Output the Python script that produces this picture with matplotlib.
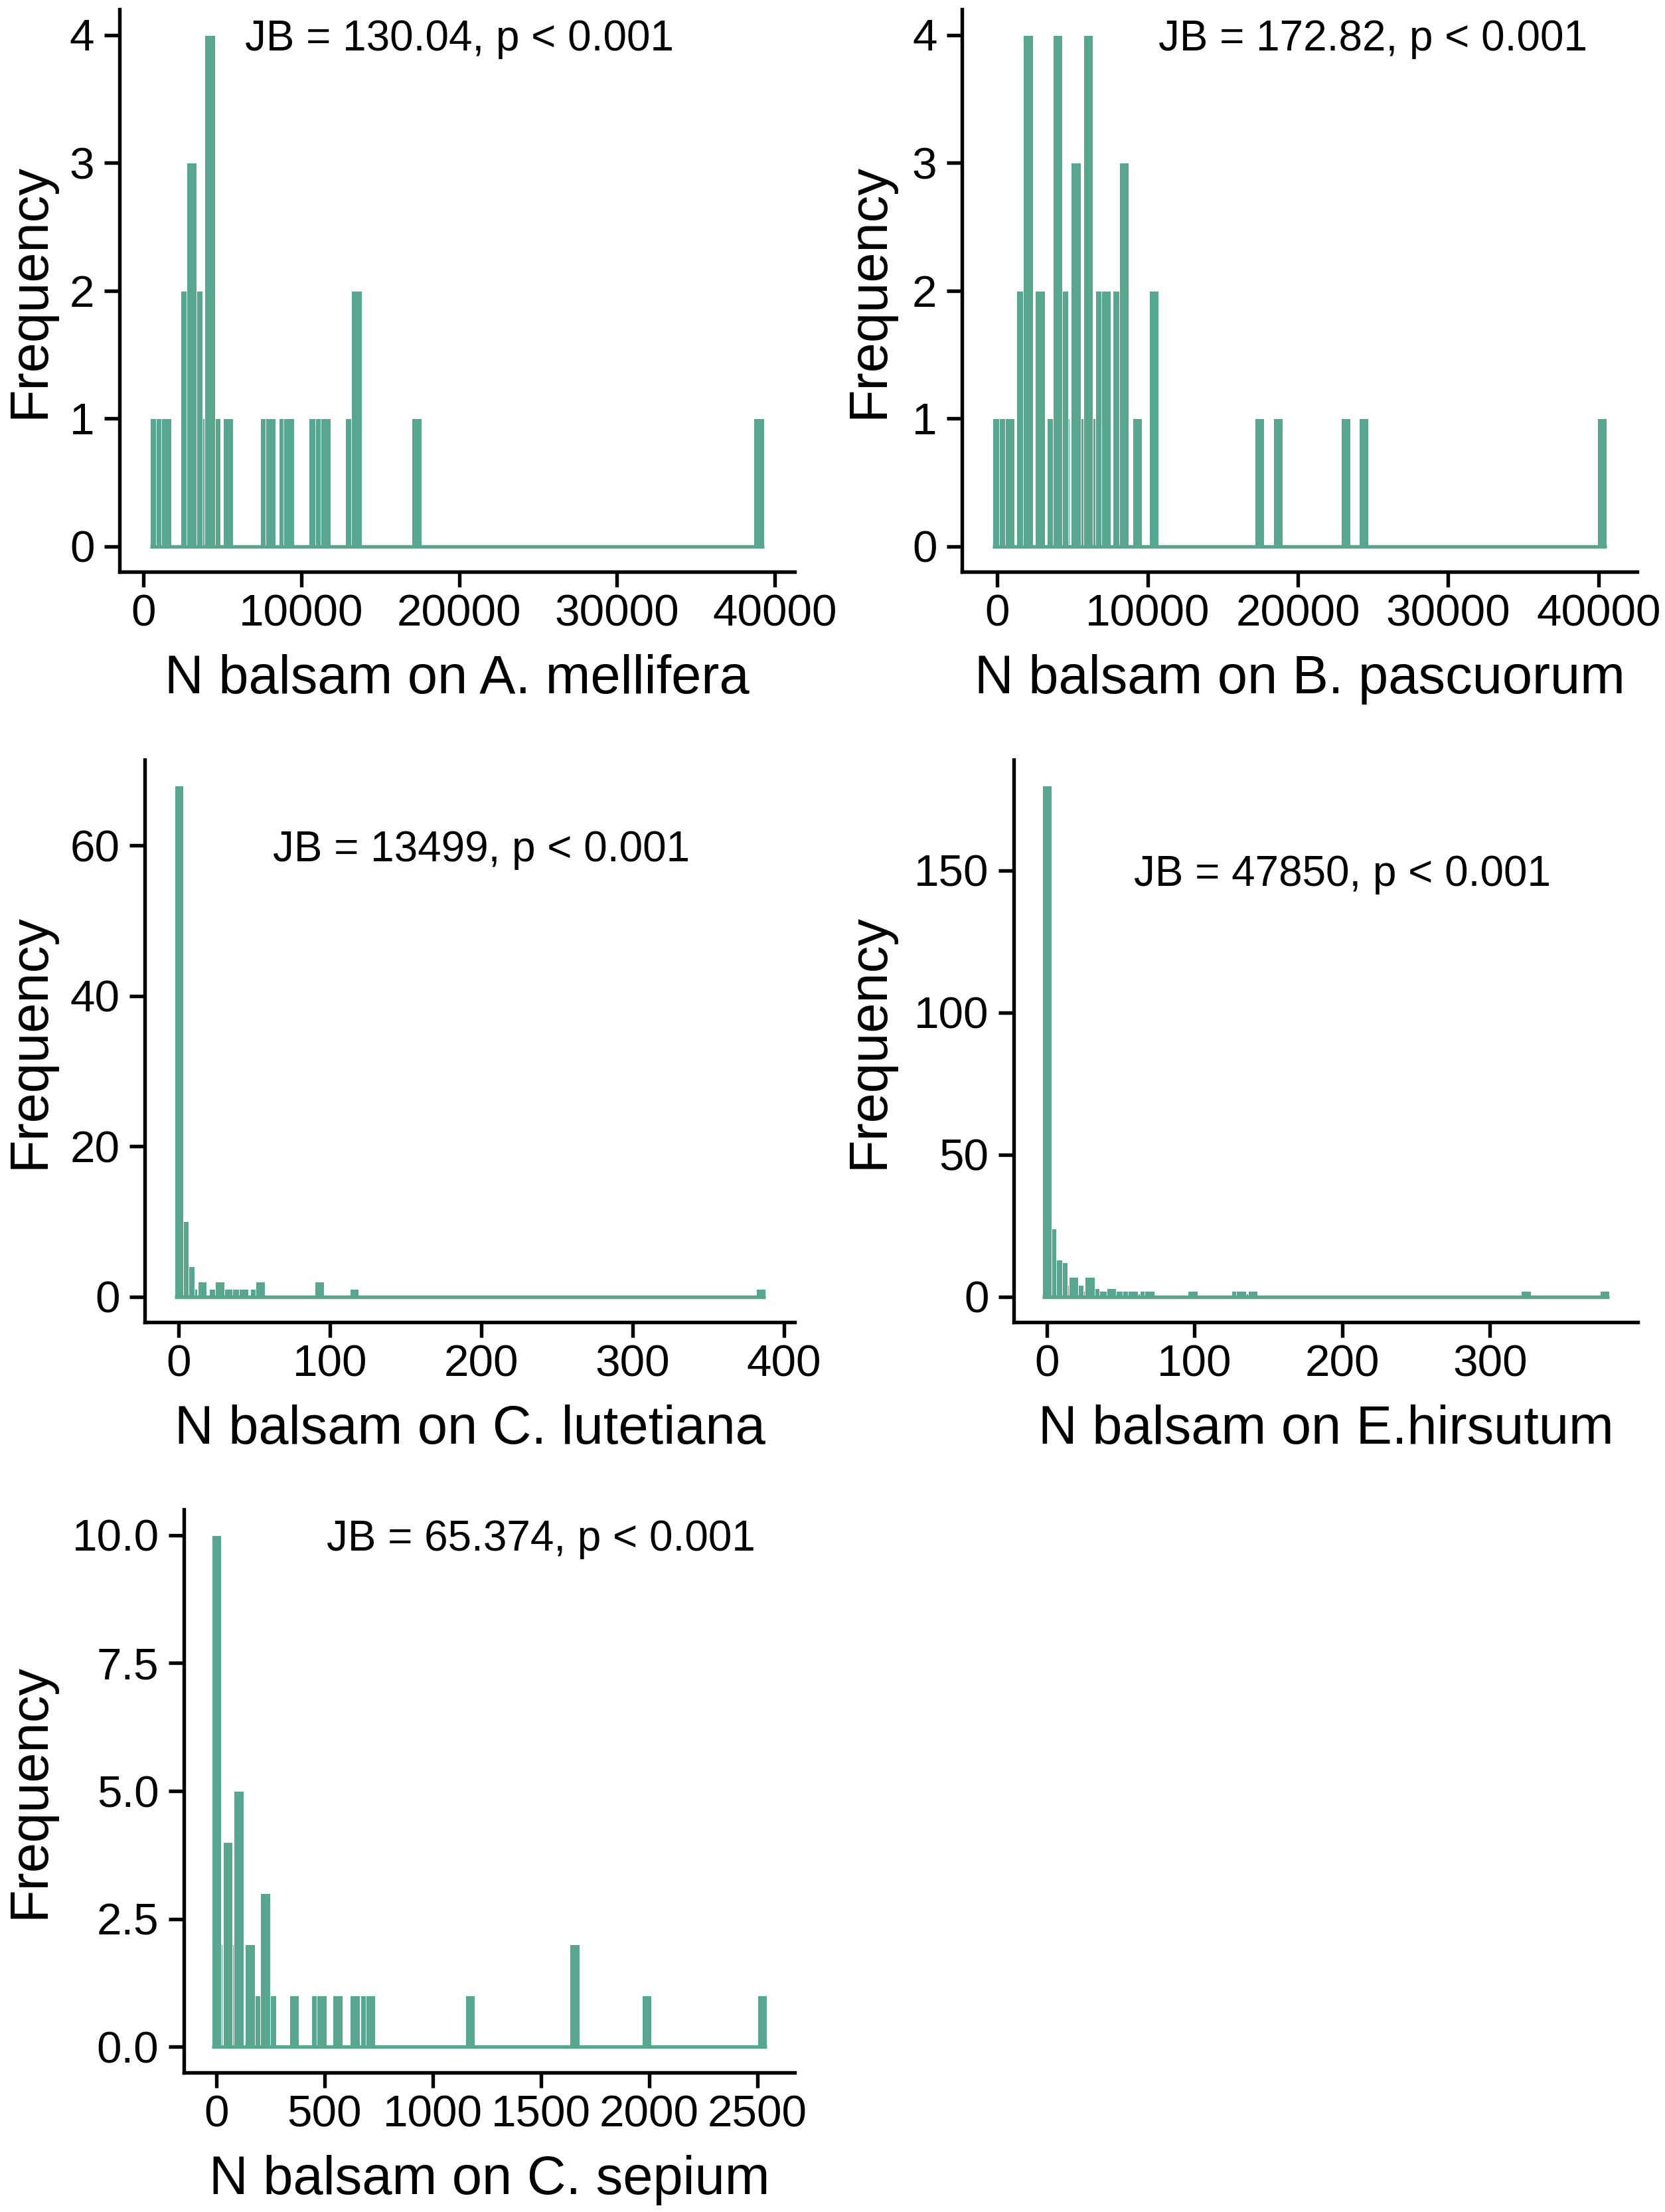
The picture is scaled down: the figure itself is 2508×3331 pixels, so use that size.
import matplotlib.pyplot as plt
import numpy as np
from matplotlib.ticker import FormatStrFormatter

plt.rcParams['font.family'] = ['Liberation Sans', 'DejaVu Sans']

GREEN = '#58a690'
W, H, DPI = 2508, 3331, 300

# ---- data: bar centres and counts per panel ----
# A. mellifera
mel_x = [745, 1100, 1448, 2656, 3036, 3416, 4062, 4202, 4540, 5369, 7716, 8054,
         8896, 9206, 10808, 11200, 11539, 13113, 13492, 17316, 39002]
mel_n = [1, 1, 1, 2, 3, 2, 1, 4, 1, 1, 1, 1, 1, 1, 1, 1, 1, 1, 2, 1, 1]
mel_bw = 646

# B. pascuorum
pas_x = [6, 420, 829, 1607, 2040, 2070, 2844, 3620, 4480, 4420, 4018, 5224, 5620,
         6027, 6400, 6830, 7230, 7990, 8424, 9300, 10417, 17449, 18671, 23168,
         24389, 40216]
pas_n = [1, 1, 1, 2, 4, 2, 2, 1, 1, 2, 4, 3, 1, 4, 1, 2, 2, 2, 3, 1, 2, 1, 1, 1,
         1, 1]
pas_bw = 629

# C. lutetiana
lut_x = [0, 3.4, 7.5, 9.2, 15.4, 22.9, 26.9, 33.1, 38.5, 42.7, 50.3, 53.9, 92.7,
         115.9, 384.6]
lut_n = [68, 10, 4, 1, 2, 1, 2, 1, 1, 1, 1, 2, 2, 1, 1]
lut_bw = 6.1

# E. hirsutum
hir_x = [0, 3.2, 7.2, 10.6, 11.8, 18.0, 21.6, 22.7, 29.0, 32.4, 37.4, 43.7, 50.0,
         54.3, 58.2, 59.7, 66.1, 69.4, 98.7, 128.2, 131.5, 133.0, 139.3, 324.3,
         377.6]
hir_n = [180, 24, 13, 12, 4, 7, 4, 2, 7, 3, 2, 3, 2, 2, 2, 1, 2, 2, 2, 2, 2, 1, 2,
         2, 2]
hir_bw = 6.47

# C. sepium
sep_x = [0, 6, 52, 62, 103, 155, 182, 226, 254, 359, 460, 487, 560, 640, 688, 712,
         1172, 1656, 1989, 2523]
sep_n = [10, 2, 4, 2, 5, 2, 1, 3, 1, 1, 1, 1, 1, 1, 1, 1, 1, 2, 1, 1]
sep_bw = 44

xlabels = ['N balsam on A. mellifera', 'N balsam on B. pascuorum',
           'N balsam on C. lutetiana', 'N balsam on E.hirsutum',
           'N balsam on C. sepium']
jb_text = ['JB = 130.04, p < 0.001', 'JB = 172.82, p < 0.001',
           'JB = 13499, p < 0.001', 'JB = 47850, p < 0.001',
           'JB = 65.374, p < 0.001']
jb_pos = [(20000, 4), (25000, 4), (200, 60), (200, 150), (1500, 10)]

xticks = [np.arange(0, 40001, 10000), np.arange(0, 40001, 10000),
          np.arange(0, 401, 100), np.arange(0, 301, 100), np.arange(0, 2501, 500)]
yticks = [[0, 1, 2, 3, 4], [0, 1, 2, 3, 4], [0, 20, 40, 60], [0, 50, 100, 150],
          [0, 2.5, 5, 7.5, 10]]

# panel boxes in pixels: left, top, right, bottom ; y-label centre x
boxes = [(180, 14, 1197, 861), (1449, 14, 2466, 861),
         (218, 1144, 1197, 1991), (1527, 1144, 2467, 1991),
         (277, 2273, 1197, 3121)]
ylab_x = [45, 1309, 45, 1309, 45]

fig = plt.figure(figsize=(W / DPI, H / DPI), dpi=DPI)

panels = [(mel_x, mel_n, mel_bw), (pas_x, pas_n, pas_bw), (lut_x, lut_n, lut_bw),
          (hir_x, hir_n, hir_bw), (sep_x, sep_n, sep_bw)]

for i, (xs, ns, bw) in enumerate(panels):
    left, top, right, bottom = boxes[i]
    ax = fig.add_axes([left / W, 1 - bottom / H, (right - left) / W, (bottom - top) / H])
    xs = np.asarray(xs, float)
    ns = np.asarray(ns, float)
    order = np.argsort(ns, kind='stable')
    ax.bar(xs[order], ns[order], width=bw, color=GREEN, edgecolor='white',
           linewidth=0.22, zorder=2)
    lo = xs.min() - bw / 2
    hi = xs.max() + bw / 2
    # empty bins show as a flat strip along zero
    ax.plot([lo, hi], [0, 0], color=GREEN, lw=1.3, solid_capstyle='butt', zorder=3)
    pad = 0.05 * (hi - lo)
    ax.set_xlim(lo - pad, hi + pad)
    ax.set_ylim(-0.05 * ns.max(), 1.05 * ns.max())

    ax.set_xticks(xticks[i])
    ax.set_yticks(yticks[i])
    if i == 4:
        ax.yaxis.set_major_formatter(FormatStrFormatter('%.1f'))
    for s in ['top', 'right']:
        ax.spines[s].set_visible(False)
    for s in ['left', 'bottom']:
        ax.spines[s].set_linewidth(1.3)
    ax.tick_params(axis='both', length=5.5, width=1.3, labelsize=16.2, colors='black')
    ax.tick_params(axis='x', pad=2.5)
    ax.tick_params(axis='y', pad=3.5)

    ax.set_xlabel(xlabels[i], fontsize=19.5, va='center')
    ax.xaxis.set_label_coords(0.5, -(162) / (bottom - top))
    ax.set_ylabel('Frequency', fontsize=19.5, va='center')
    ax.yaxis.set_label_coords((ylab_x[i] - left) / (right - left), 0.5)

    ax.text(jb_pos[i][0], jb_pos[i][1], jb_text[i], ha='center',
            va='center_baseline', fontsize=15.3)

fig.savefig('out.png', dpi=DPI)
